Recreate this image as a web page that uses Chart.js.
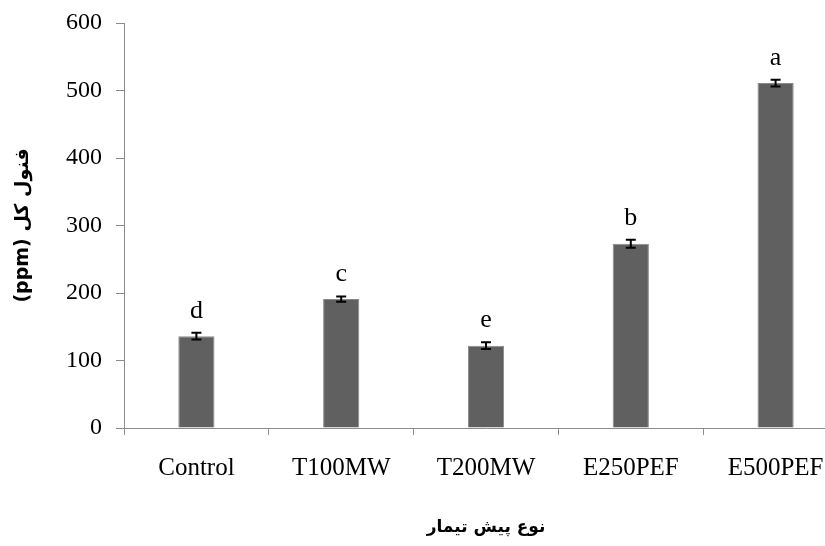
<!DOCTYPE html>
<html>
<head>
<meta charset="utf-8">
<script src="https://cdn.jsdelivr.net/npm/chart.js@4"></script>
<style>
  html, body { margin: 0; padding: 0; background: #fff; overflow: hidden; }
  canvas { display: block; }
</style>
</head>
<body>
<canvas id="phenolChart" width="848" height="546"></canvas>
<script>
// data
const categories = ["Control", "T100MW", "T200MW", "E250PEF", "E500PEF"];
const phenolValues = [136, 191, 122, 273, 511];
const errorValues = [5, 4, 5, 6, 5];
const letters = ["d", "c", "e", "b", "a"];
const yTicks = [0, 100, 200, 300, 400, 500, 600];

const serif = "'Liberation Serif', 'Times New Roman', serif";
const arabicFont = "'DejaVu Sans', 'Liberation Serif', sans-serif";

// error bars + significance letters
const errorBarPlugin = {
  id: "errorBars",
  afterDatasetsDraw(chart) {
    const ctx = chart.ctx;
    const yScale = chart.scales.y;
    const meta = chart.getDatasetMeta(0);
    ctx.save();
    meta.data.forEach((bar, i) => {
      const x = bar.x;
      const top = yScale.getPixelForValue(phenolValues[i] + errorValues[i]);
      const bottom = yScale.getPixelForValue(phenolValues[i] - errorValues[i]);
      ctx.strokeStyle = "#000";
      ctx.lineWidth = 2;
      ctx.beginPath();
      ctx.moveTo(x, top);
      ctx.lineTo(x, bottom);
      ctx.moveTo(x - 5, top);
      ctx.lineTo(x + 5, top);
      ctx.moveTo(x - 5, bottom);
      ctx.lineTo(x + 5, bottom);
      ctx.stroke();

      ctx.fillStyle = "#000";
      ctx.font = "26px " + serif;
      ctx.textAlign = "center";
      ctx.textBaseline = "alphabetic";
      ctx.fillText(letters[i], x, top - 15);
    });
    ctx.restore();
  }
};

new Chart(document.getElementById("phenolChart"), {
  type: "bar",
  data: {
    labels: categories,
    datasets: [{
      data: phenolValues,
      backgroundColor: "#606060",
      borderColor: "#8a8a8a",
      borderWidth: 1,
      barPercentage: 0.25,
      categoryPercentage: 1
    }]
  },
  options: {
    responsive: false,
    animation: false,
    layout: { padding: { top: 23, left: 0, right: 0, bottom: 0 } },
    plugins: {
      legend: { display: false },
      tooltip: { enabled: false }
    },
    scales: {
      x: {
        offset: true,
        grid: {
          offset: true,
          drawOnChartArea: false,
          drawTicks: true,
          tickLength: 7,
          color: "#8c8c8c"
        },
        border: { display: true, color: "#8c8c8c", width: 1 },
        ticks: {
          color: "#000",
          font: { family: serif, size: 25 },
          padding: 18,
          maxRotation: 0
        },
        title: {
          display: true,
          text: "نوع پیش تیمار",
          color: "#000",
          font: { family: arabicFont, size: 17, weight: "bold" },
          padding: { top: 0, bottom: 8 }
        },
        afterFit(scale) { scale.height = 118; }
      },
      y: {
        min: 0,
        max: 600,
        afterBuildTicks(scale) { scale.ticks = yTicks.map(v => ({ value: v })); },
        grid: {
          drawOnChartArea: false,
          drawTicks: true,
          tickLength: 8,
          color: "#8c8c8c"
        },
        border: { display: true, color: "#8c8c8c", width: 1 },
        ticks: {
          color: "#000",
          font: { family: serif, size: 24 },
          padding: 14
        },
        title: {
          display: true,
          text: "(ppm) فنول کل",
          color: "#000",
          font: { family: arabicFont, size: 19, weight: "bold" },
          padding: { top: 12, bottom: 0 }
        },
        afterFit(scale) {
          scale.width = 124;
          scale.paddingTop = 0;
          scale.paddingBottom = 0;
        }
      }
    }
  },
  plugins: [errorBarPlugin]
});
</script>
</body>
</html>
